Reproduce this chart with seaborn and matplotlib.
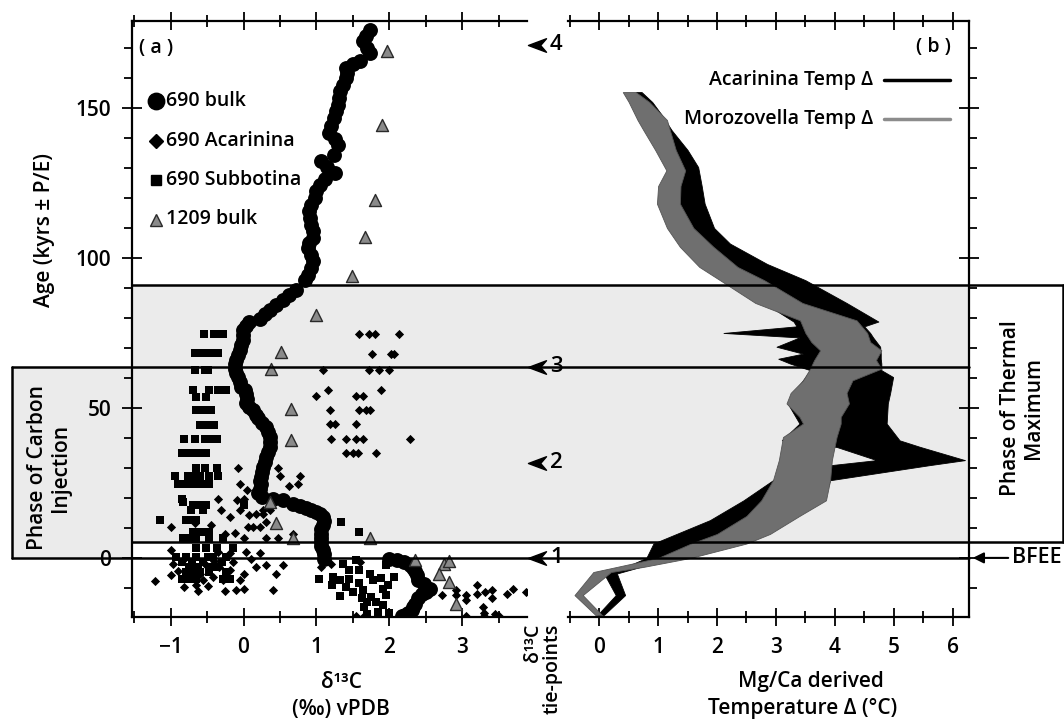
import numpy as np
import pandas as pd
import matplotlib
matplotlib.use('Agg')
import matplotlib.pyplot as plt
import seaborn as sns
import matplotlib.transforms as mtrans
from matplotlib.patches import Rectangle, FancyArrowPatch
from matplotlib.lines import Line2D
from matplotlib.path import Path
from matplotlib.ticker import MultipleLocator

# ---------------- data ----------------
# 690 bulk d13C
bulk690_d13c = [1.73, 1.68, 1.64, 1.70, 1.74, 1.60, 1.50, 1.40, 1.42, 1.40, 1.36, 1.33, 1.31, 1.29, 1.27,
                1.24, 1.20, 1.17, 1.25, 1.29, 1.24, 1.07, 1.15, 1.26, 1.12, 1.05, 1.00, 0.98, 0.93, 0.90,
                0.91, 0.93, 0.95, 0.95, 0.90, 0.88, 0.92, 0.95, 0.92, 0.88, 0.85, 0.72, 0.63, 0.54, 0.45,
                0.36, 0.29, 0.22, 0.08, 0.03, -0.01, -0.01, -0.01, -0.03, -0.05, -0.08, -0.10, -0.12, -0.12,
                -0.10, -0.08, -0.05, -0.03, 0.02, 0.04, 0.05, 0.04, 0.08, 0.13, 0.17, 0.20, 0.26, 0.31, 0.34,
                0.36, 0.37, 0.36, 0.34, 0.31, 0.29, 0.27, 0.25, 0.24, 0.23, 0.24, 0.22, 0.20, 0.25, 0.40,
                0.54, 0.68, 0.78, 0.86, 0.93, 0.99, 1.05, 1.09, 1.10, 1.09, 1.07, 1.06, 1.06, 1.06, 1.07,
                1.09, 1.10, 1.11, 2.00, 2.10, 2.20, 2.28, 2.33, 2.36, 2.38, 2.40, 2.47, 2.56, 2.50, 2.45,
                2.40, 2.36, 2.33, 2.31, 2.26, 2.22, 2.18]
bulk690_age = [176.1, 174.0, 172.2, 170.0, 168.3, 165.6, 164.5, 163.3, 161.5, 160.0, 157.8, 155.6, 153.3, 151.1, 149.0,
               146.7, 144.0, 141.7, 139.8, 137.8, 134.4, 132.2, 130.2, 128.3, 126.3, 124.4, 122.2, 120.0, 117.8, 115.6,
               113.3, 111.1, 108.9, 106.7, 105.0, 103.3, 101.0, 98.9, 96.7, 94.4, 92.6, 89.2, 87.5, 85.9, 84.2,
               82.6, 81.2, 79.8, 78.7, 77.3, 75.9, 74.2, 72.6, 70.9, 69.2, 67.5, 65.9, 64.5, 63.1,
               61.7, 60.3, 58.6, 57.0, 55.9, 54.8, 53.1, 51.5, 50.3, 49.2, 47.8, 46.5, 45.1, 43.7, 42.0,
               40.3, 38.6, 37.0, 35.3, 33.7, 32.0, 30.4, 28.7, 27.1, 25.5, 24.8, 23.0, 21.5, 20.2, 19.6,
               19.2, 18.1, 17.3, 16.5, 15.9, 15.3, 14.5, 13.7, 12.3, 10.9, 9.5, 8.1, 6.7, 5.3, 4.0,
               2.6, 1.2, -0.2, -0.5, -0.8, -1.5, -2.5, -3.5, -4.5, -5.8, -7.4, -8.7, -10.2, -11.2, -12.0,
               -13.5, -15.2, -16.3, -17.4, -18.3, -19.1, -19.5]

# 1209 bulk d13C
bulk1209_d13c = [1.97, 1.90, 1.81, 1.67, 1.49, 1.00, 0.52, 0.38, 0.65, 0.65, 0.36, 0.44, 0.68, 1.73,
                 2.36, 2.75, 2.82, 2.68, 2.82, 2.91]
bulk1209_age = [169.1, 144.4, 119.4, 106.9, 93.9, 80.9, 68.7, 63.1, 49.5, 39.2, 18.7, 11.5, 6.5, 6.5,
                -0.8, -1.9, -1.0, -5.2, -8.0, -15.2]

# 690 Subbotina d13C
subb_d13c = [-0.54, -0.40, -0.33, -0.28,
             -0.67, -0.60, -0.51, -0.44, -0.35,
             -0.67, -0.53, -0.49,
             -0.69, -0.47, -0.35, -0.24, -0.65, -0.51,
             -0.65, -0.58, -0.49, -0.44,
             -0.60, -0.53, -0.47, -0.40,
             -0.81, -0.67, -0.53, -0.47, -0.37,
             -0.85, -0.79, -0.72, -0.65, -0.58, -0.51,
             -0.65, -0.53, -0.37,
             -0.94, -0.76, -0.69, -0.60, -0.47, -0.35,
             -0.90, -0.83, -0.76, -0.69, -0.58, -0.47,
             -0.85, -0.83,
             -0.69, -0.63, -0.58, -0.51, 0.01,
             -0.72, -0.56,
             -1.15, -0.79, -0.72, -0.65, 1.34,
             -0.69, -0.58, -0.47, 1.59,
             -0.83, -0.76, -0.65, -0.47, -0.28,
             -0.65, -0.51, -0.37, -0.14,
             -0.92, -0.79, -0.65, -0.49, -0.42, -0.24,
             -0.85, -0.70, -0.55, -0.30, 1.54,
             -0.75, -0.62, -0.45, -0.38,
             -0.79, -0.69, -0.60, -0.47, -0.24,
             -0.85, -0.74, -0.65, -0.28, -0.19,
             1.36, 1.45, 1.23, 1.32, 1.04, 1.59, 1.41, 1.64, 1.75, 1.82, 1.91, 1.69, 1.32, 1.96, 1.59,
             1.73, 1.96, 2.07, 1.98, 1.91, 1.84, 2.00, 1.70, 1.45, 1.21, 1.50, 1.78, 1.65, 1.88, 1.62]
subb_age = [74.8, 74.8, 74.8, 74.8,
            68.3, 68.3, 68.3, 68.3, 68.3,
            62.6, 62.6, 62.6,
            55.9, 55.9, 55.9, 55.9, 53.7, 53.7,
            49.2, 49.2, 49.2, 49.2,
            44.3, 44.3, 44.3, 44.3,
            39.5, 39.5, 39.5, 39.5, 39.5,
            35.0, 35.0, 35.0, 35.0, 35.0, 35.0,
            30.1, 30.1, 30.1,
            27.4, 27.4, 27.4, 27.4, 27.4, 27.4,
            24.6, 24.6, 24.6, 24.6, 24.6, 24.6,
            19.5, 18.5,
            17.6, 17.6, 17.6, 17.6, 17.6,
            15.9, 15.9,
            12.6, 12.6, 12.6, 12.6, 12.0,
            8.8, 8.8, 8.8, 8.8,
            6.5, 6.5, 6.5, 6.5, 6.5,
            3.2, 3.2, 3.2, 3.2,
            0.3, 0.3, 0.3, 0.3, 0.3, 0.3,
            -1.5, -1.5, -1.5, -1.5, -0.8,
            -3.0, -3.0, -3.0, -3.0,
            -4.7, -4.7, -4.7, -4.7, -4.7,
            -6.9, -6.9, -6.9, -6.9, -6.9,
            -1.9, -4.1, -6.3, -7.4, -6.9, -8.5, -9.6, -10.7, -12.9, -14.6, -15.7, -14.6, -12.8, -12.4, -4.1,
            -5.2, -2.4, -6.3, -9.1, -10.2, -18.0, -18.5, -18.8, -6.9, -9.1, -11.5, -7.5, -16.5, -6.8, -13.5]

# 690 Acarinina d13C
acar_d13c = [1.59, 1.72, 1.81, 2.13,
             1.77, 2.02, 2.07,
             1.09, 1.72, 1.86, 2.00,
             1.16, 1.89, 1.00, 1.54, 1.64,
             1.18, 1.59, 1.68, 1.73,
             1.18, 1.25, 1.54,
             1.20, 1.41, 1.54, 1.64, 2.28,
             1.41, 1.50, 1.57, 1.82,
             -0.08, 0.48, 0.50, 0.77, 0.62,
             -0.05, 0.75, -0.35, -0.09, 0.01, 0.05, -0.31, -0.19, 0.08, 0.17, 0.27, 0.31, 0.06, 0.13,
             0.22, -1.00, -0.67, -0.44, -0.26, -0.12, 0.01, 0.31, 0.47, 0.27, -0.05, 0.36, 0.68,
             -1.22, -1.00, -1.00, -0.97, -0.81, -0.65, -0.49, -0.28, -0.10, 0.01, 0.01, 0.17, 0.31, 0.45,
             0.54, 0.40, -0.19, -0.35, 0.04, -0.33, -0.42, -0.69, -0.55, -0.83, -0.51, -0.19, 0.22, -0.60,
             -0.40, -0.15, -0.72, -0.05, 0.10, -0.90, -0.25, -0.62,
             1.07, 2.73, 2.91, 3.05, 3.21, 3.21, 3.32, 3.41, 3.41, 3.28, 3.62, 3.05, 2.91, 3.30, 3.45,
             3.87, 3.70, 2.55, 1.20, 1.60, 1.55, 1.65, 3.05, 3.30, 3.50]
acar_age = [74.8, 74.8, 74.8, 74.8,
            68.1, 68.1, 68.1,
            62.6, 62.6, 62.6, 62.6,
            55.9, 55.9, 53.9, 53.9, 53.9,
            49.2, 49.2, 49.2, 49.2,
            44.5, 44.5, 44.5,
            39.5, 39.5, 39.5, 39.5, 39.5,
            35.0, 35.0, 35.0, 35.0,
            30.1, 29.9, 27.2, 27.2, 24.0,
            24.6, 24.6, 19.8, 19.2, 19.8, 22.6, 15.9, 13.7, 14.2, 14.8, 14.8, 12.0, 10.3, 10.3,
            10.3, 10.3, 11.5, 10.9, 8.1, 8.3, 6.5, 6.5, 6.5, 15.9, 15.9, 15.9, 8.1,
            -7.8, 2.6, -5.8, -1.9, -9.6, -9.1, -9.4, -7.4, -10.7, -10.2, -5.2, -3.0, -2.4, -5.2,
            -2.4, -10.7, -4.1, 2.0, 2.0, -3.0, -6.3, -3.6, -7.4, -0.8, -2.4, 1.5, 1.5, -5.5,
            -1.0, -1.5, -6.8, -7.5, -0.5, -4.2, -11.0, -11.0,
            -3.0, -12.4, -12.4, -12.4, -9.1, -11.9, -11.4, -10.7, -13.5, -16.3, -11.9, -14.0, -10.7, -18.5, -18.7,
            -11.5, -10.2, -10.6, -2.0, -1.5, -19.3, -19.3, -19.3, -19.3, -19.3]

# Mg/Ca temperature change envelopes (age, low edge, high edge)
acar_age_b = [155.3, 152, 148, 142.6, 136, 130.3, 124, 118.1, 110, 104.8, 98, 92.6, 85, 78.8, 77.2,
              75.0, 73.5, 70.4, 68.1, 66.4, 64.8, 62.6, 60.3, 55, 51.5, 44.8, 39.2, 37.0, 32.6, 30.9,
              25.9, 19.2, 12.6, 4.8, 0.0, -3.0, -5.2, -12.4, -19.0]
acar_lo = [0.62, 0.66, 0.72, 0.82, 1.02, 1.16, 1.12, 1.12, 1.35, 1.55, 1.90, 2.20, 2.80, 3.30, 3.35,
           2.11, 3.40, 3.01, 3.46, 3.04, 3.24, 3.58, 3.50, 3.30, 3.20, 3.40, 3.10, 4.03, 4.71, 3.92,
           2.95, 2.45, 1.88, 0.92, 0.80, 0.45, 0.08, 0.28, -0.03]
acar_hi = [0.72, 0.90, 1.05, 1.23, 1.50, 1.68, 1.74, 1.79, 1.95, 2.22, 2.85, 3.50, 4.20, 4.74, 4.50,
           4.60, 4.65, 4.77, 4.78, 4.78, 4.79, 4.79, 4.99, 4.94, 4.90, 4.88, 5.10, 5.45, 6.21, 5.60,
           3.92, 3.80, 3.00, 1.70, 1.15, 0.70, 0.30, 0.44, 0.08]

moro_age_b = [155.3, 152, 146, 142.6, 136, 129.2, 124, 118.1, 110, 103.7, 97, 92.6, 85, 79.2, 75,
              72, 69.2, 66, 63.1, 59.2, 55, 51.5, 47, 44.8, 40.3, 32.6, 25.9, 19.2, 14, 8,
              4.8, 0.0, -3.0, -4.7, -12.4, -19.1]
moro_lo = [0.40, 0.50, 0.65, 0.75, 0.95, 1.14, 1.00, 0.98, 1.15, 1.37, 1.70, 2.05, 2.65, 3.41, 3.50,
           3.60, 3.75, 3.65, 3.58, 3.46, 3.25, 3.18, 3.40, 3.46, 3.12, 3.05, 2.95, 2.75, 2.50, 2.00,
           1.56, 1.00, 0.30, -0.10, -0.42, -0.06]
moro_hi = [0.62, 0.85, 1.15, 1.20, 1.30, 1.46, 1.38, 1.37, 1.60, 1.94, 2.35, 2.80, 3.45, 4.37, 4.55,
           4.60, 4.79, 4.70, 4.79, 4.30, 4.20, 4.24, 4.10, 4.10, 4.03, 3.95, 3.92, 3.85, 3.40, 2.90,
           2.50, 1.55, 0.75, 0.20, -0.28, 0.05]

tie_ages = [0.0, 31.8, 63.7, 171.0]
tie_labels = ['1', '2', '3', '4']

carbon_phase = (0.0, 63.7)
thermal_phase = (5.3, 90.9)

# ---------------- figure ----------------
sns.set_theme(style='ticks', rc={'axes.edgecolor': 'black', 'xtick.color': 'black',
                                 'ytick.color': 'black', 'text.color': 'black',
                                 'axes.labelcolor': 'black', 'axes.linewidth': 1.6})
plt.rcParams['font.family'] = ['Open Sans', 'DejaVu Sans']
plt.rcParams['font.weight'] = 'semibold'

W, H = 1064, 721
fig = plt.figure(figsize=(W / 100, H / 100), dpi=100)


def fx(px):
    return px / W


def fy(py):
    return 1 - py / H


TOP, BOT = 21, 617
ax_a = fig.add_axes([fx(132), fy(BOT), (527 - 132) / W, (BOT - TOP) / H])
ax_b = fig.add_axes([fx(568), fy(BOT), (968.5 - 568) / W, (BOT - TOP) / H])
for ax in (ax_a, ax_b):
    ax.set_facecolor('none')
    ax.set_ylim(-19.7, 179)
ax_a.set_xlim(-1.53, 3.89)
ax_b.set_xlim(-0.53, 6.27)

# panel a scatter
sns.scatterplot(x=subb_d13c, y=subb_age, marker='s', s=30, color='black', linewidth=0, ax=ax_a)
sns.scatterplot(x=acar_d13c, y=acar_age, marker='D', s=22, color='black', linewidth=0, ax=ax_a)
sns.scatterplot(x=bulk690_d13c, y=bulk690_age, marker='o', s=115, color='black', linewidth=0, ax=ax_a)
sns.scatterplot(x=bulk1209_d13c, y=bulk1209_age, marker='^', s=75, color='#8a8a8a',
                edgecolor='#2a2a2a', linewidth=1, ax=ax_a)

# panel b envelopes
ax_b.fill_betweenx(acar_age_b, acar_lo, acar_hi, color='black', lw=0.6)
ax_b.fill_betweenx(moro_age_b, moro_lo, moro_hi, color='#6f6f6f', lw=0.6, edgecolor='#555555')

# axes styling
for ax in (ax_a, ax_b):
    ax.xaxis.set_major_locator(MultipleLocator(1))
    ax.xaxis.set_minor_locator(MultipleLocator(0.5))
    ax.yaxis.set_major_locator(MultipleLocator(50))
    ax.yaxis.set_minor_locator(MultipleLocator(10))
    ax.tick_params(axis='x', which='both', top=True, bottom=True, direction='inout', labeltop=False,
                   width=1.3, labelsize=15, pad=8)
    ax.tick_params(axis='x', which='major', length=13)
    ax.tick_params(axis='x', which='minor', length=8)
    ax.set_xlabel('')
    ax.set_ylabel('')
ax_a.set_xticks([-1, 0, 1, 2, 3])
ax_a.xaxis.set_minor_locator(MultipleLocator(0.5))
ax_b.set_xticks([0, 1, 2, 3, 4, 5, 6])
ax_a.spines['right'].set_visible(False)
ax_b.spines['left'].set_visible(False)
ax_a.tick_params(axis='y', which='major', direction='inout', length=14, width=1.3, labelsize=15, pad=8)
ax_a.tick_params(axis='y', which='minor', direction='out', length=6, width=1.3)
ax_a.set_yticks([0, 50, 100, 150])
ax_b.tick_params(axis='y', which='both', left=False, right=True, labelleft=False, labelright=False,
                 width=1.3)
ax_b.tick_params(axis='y', which='major', direction='inout', length=14)
ax_b.tick_params(axis='y', which='minor', direction='out', length=6)
ax_b.set_yticks([0, 50, 100, 150])

# shading and phase boxes: x in figure fraction, y in age
trans = mtrans.blended_transform_factory(fig.transFigure, ax_a.transData)
stipple = '#ebebeb'
fig.add_artist(Rectangle((fx(132), thermal_phase[0]), fx(968.5) - fx(132),
                         thermal_phase[1] - thermal_phase[0], transform=trans,
                         facecolor=stipple, edgecolor='none', zorder=-5))
fig.add_artist(Rectangle((fx(12), carbon_phase[0]), fx(132) - fx(12),
                         carbon_phase[1] - carbon_phase[0], transform=trans,
                         facecolor=stipple, edgecolor='none', zorder=-5))

lw_box = 1.8
for age in thermal_phase:
    fig.add_artist(Line2D([fx(132), fx(1063)], [age, age], transform=trans, color='black',
                          lw=lw_box, zorder=10))
fig.add_artist(Line2D([fx(1063), fx(1063)], list(thermal_phase), transform=trans, color='black',
                      lw=lw_box, zorder=10))
for age in carbon_phase:
    fig.add_artist(Line2D([fx(12), fx(968.5)], [age, age], transform=trans, color='black',
                          lw=lw_box, zorder=10))
fig.add_artist(Line2D([fx(12), fx(12)], list(carbon_phase), transform=trans, color='black',
                      lw=lw_box, zorder=10))

# tie-point arrows
arrow_head = Path([(-1, 0), (1, 0.75), (0.35, 0), (1, -0.75), (-1, 0)],
                  [Path.MOVETO, Path.LINETO, Path.LINETO, Path.LINETO, Path.CLOSEPOLY])
for age, lab in zip(tie_ages, tie_labels):
    fig.add_artist(Line2D([fx(537)], [age], transform=trans, marker=arrow_head, markersize=13,
                          color='black', lw=0, zorder=11))
    fig.text(fx(550), age, lab, transform=trans, ha='left', va='center', fontsize=16, zorder=11)

# BFEE arrow
fig.add_artist(FancyArrowPatch((fx(1011), 0), (fx(970), 0), transform=trans, arrowstyle='-|>',
                               mutation_scale=16, lw=1.5, color='black', zorder=11))
fig.text(fx(1012), 0, 'BFEE', transform=trans, ha='left', va='center', fontsize=15.5)

# texts
fs = 15
fig.text(fx(156), fy(48), '( a )', ha='center', va='center', fontsize=14)
fig.text(fx(933), fy(47), '( b )', ha='center', va='center', fontsize=14)

leg = [('o', 140, '690 bulk'), ('D', 45, '690 Acarinina'), ('s', 60, '690 Subbotina'),
       ('^', 75, '1209 bulk')]
for i, (m, s, lab) in enumerate(leg):
    py = 101 + i * 39.5
    col = '#8a8a8a' if m == '^' else 'black'
    fig.add_artist(Line2D([fx(156)], [fy(py)], transform=fig.transFigure, marker=m,
                          markersize=np.sqrt(s), color=col,
                          markeredgecolor='black' if m != '^' else '#2a2a2a',
                          lw=0, zorder=12))
    fig.text(fx(166), fy(py), lab, ha='left', va='center', fontsize=14)

for i, (lab, col) in enumerate([('Acarinina Temp Δ', 'black'), ('Morozovella Temp Δ', '#8c8c8c')]):
    py = 80 + i * 39
    fig.text(fx(873), fy(py), lab, ha='right', va='center', fontsize=14)
    fig.add_artist(Line2D([fx(884), fx(950)], [fy(py), fy(py)], transform=fig.transFigure,
                          color=col, lw=2.5, zorder=12))

fig.text(fx(45), fy(230), 'Age (kyrs ± P/E)', rotation=90, ha='center', va='center', fontsize=fs)
fig.text(fx(49), fy(468), 'Phase of Carbon\nInjection', rotation=90, ha='center', va='center',
         fontsize=fs, linespacing=1.1)
fig.text(fx(1022), fy(408), 'Phase of Thermal\nMaximum', rotation=90, ha='center', va='center',
         fontsize=fs, linespacing=1.1)
fig.text(fx(341), fy(683), 'δ¹³C', ha='center', va='center', fontsize=fs)
fig.text(fx(341), fy(709), '(‰) vPDB', ha='center', va='center', fontsize=fs)
fig.text(fx(811), fy(681), 'Mg/Ca derived', ha='center', va='center', fontsize=fs)
fig.text(fx(803), fy(708), 'Temperature Δ (°C)', ha='center', va='center', fontsize=fs)
fig.text(fx(543), fy(624), 'δ¹³C\ntie-points', rotation=90, ha='center', va='top',
         multialignment='right', fontsize=14, linespacing=1.0)

fig.savefig('out.png', dpi=100)
